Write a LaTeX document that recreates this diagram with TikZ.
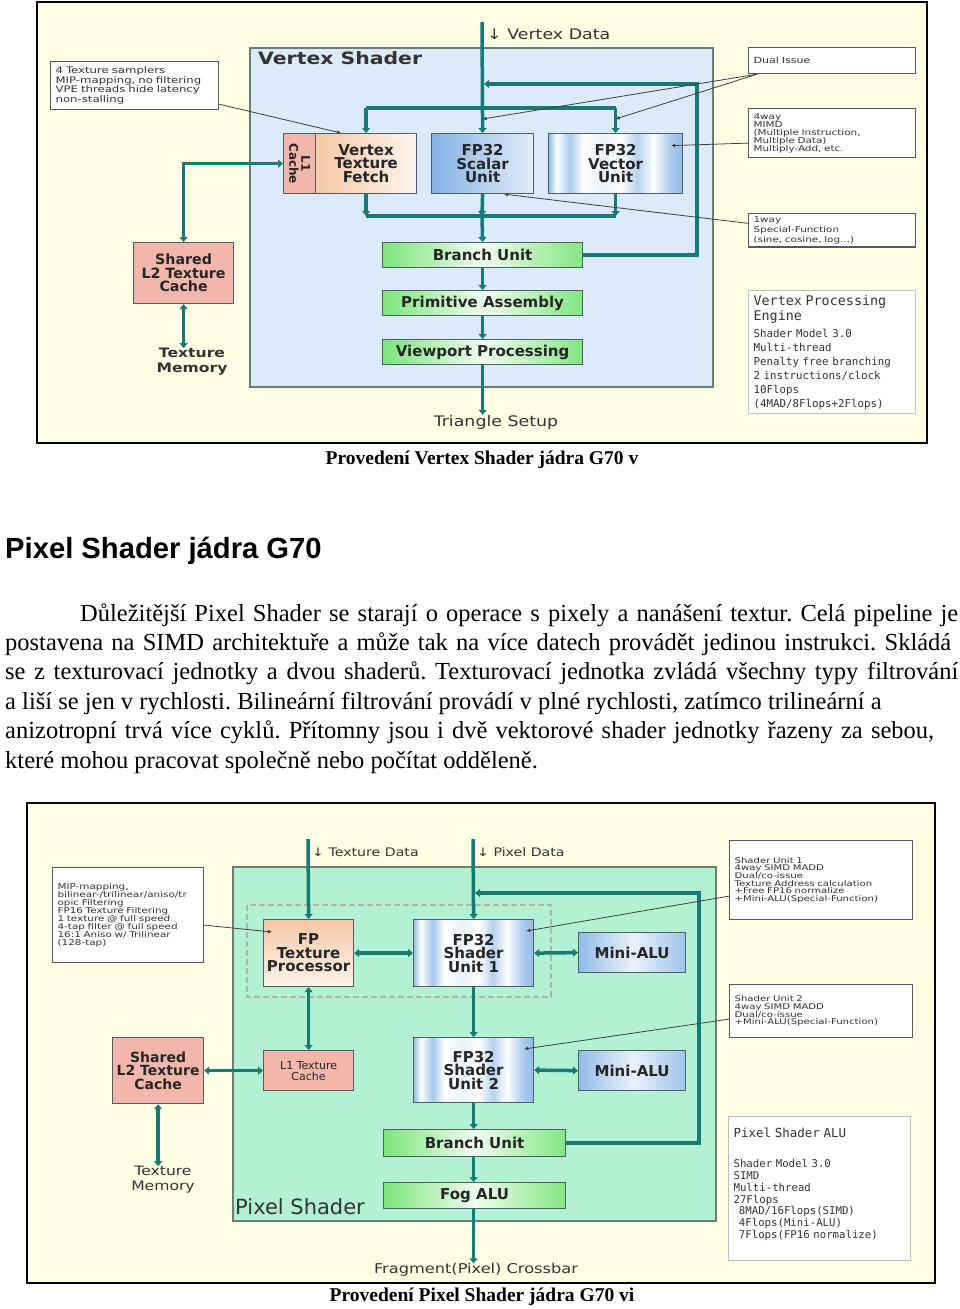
\documentclass[tikz,border=0pt]{standalone}
\usepackage{fontspec}
\setmainfont{Liberation Serif}
\newfontfamily\headfont{Liberation Sans}
\newfontfamily\diafont{DejaVu Sans}
\newfontfamily\widefont[FakeStretch=1.2]{DejaVu Sans}
\newfontfamily\notefont[FakeStretch=1.3]{DejaVu Sans}
\newfontfamily\monofont{DejaVu Sans Mono}
\usetikzlibrary{arrows.meta,positioning}

\definecolor{paper}{RGB}{255,255,230}
\definecolor{vsfill}{RGB}{220,235,250}
\definecolor{psfill}{RGB}{178,242,210}
\definecolor{wirec}{RGB}{22,122,118}
\definecolor{edgec}{RGB}{80,95,100}
\definecolor{frameedge}{RGB}{110,125,115}
\definecolor{salmon}{RGB}{243,182,170}
\definecolor{peach}{RGB}{246,200,165}
\definecolor{unitblue}{RGB}{110,165,225}
\definecolor{lime}{RGB}{100,225,100}

\pgfdeclarehorizontalshading{stripes}{100bp}{color(0bp)=(unitblue!75); color(25bp)=(unitblue!75);
  color(28bp)=(white); color(33bp)=(unitblue!60); color(38bp)=(white); color(45bp)=(white!85!unitblue);
  color(52bp)=(white); color(58bp)=(unitblue!50); color(64bp)=(white); color(70bp)=(unitblue!55);
  color(75bp)=(unitblue!75); color(100bp)=(unitblue!75)}

\tikzset{
  sheet/.style={draw=black, line width=1.4pt, fill=paper},
  shaderbox/.style={draw=frameedge, line width=2pt},
  unitbox/.style={draw=edgec, line width=1.2pt, anchor=north west, inner sep=1pt, align=center,
    text=black!85, font=\diafont\bfseries\fontsize{15}{13.5}\selectfont},
  redbox/.style={unitbox, fill=salmon},
  peachbox/.style={unitbox, left color=peach, right color=peach!20},
  bluebox/.style={unitbox, shading=stripes},
  scalarbox/.style={unitbox, left color=unitblue!85, right color=unitblue!20},
  alubox/.style={unitbox, left color=unitblue!75, right color=unitblue!65, middle color=unitblue!15},
  greenbox/.style={unitbox, left color=lime!85, right color=lime!80, middle color=lime!10},
  notebox/.style={draw=gray!70!black, line width=1.2pt, fill=white, anchor=north west, align=left,
    inner xsep=5pt, inner ysep=3pt, text=black!80, font=\notefont\fontsize{8}{8}\selectfont},
  monobox/.style={notebox, draw=gray!50, font=\monofont\fontsize{10.8}{14}\selectfont},
  plain/.style={text=black!80, inner sep=0pt},
  wire/.style={draw=wirec, line width=3.5pt},
  flow/.style={wire, -{Triangle[length=5pt,width=8pt]}},
  dflow/.style={wire, {Triangle[length=5pt,width=8pt]}-{Triangle[length=5pt,width=8pt]}},
  pointer/.style={draw=black!75, line width=0.8pt, -{Latex[length=4pt,width=4pt]}},
  bodytext/.style={anchor=base west, inner sep=0pt, font=\fontsize{24.5}{29}\selectfont\frenchspacing}
}

\begin{document}
\begin{tikzpicture}[x=1pt,y=-1pt]
  \useasboundingbox (0,0) rectangle (960,1309);

  % ---------- vertex shader figure ----------
  \draw[sheet] (37,2) rectangle (927,443);
  \draw[shaderbox, fill=vsfill] (250,48) rectangle (713,387);
  \node[plain, anchor=west, font=\widefont\bfseries\fontsize{17}{17}\selectfont] (vsname) at (258,58) {Vertex Shader};

  \node[redbox, minimum width=32pt, minimum height=60pt, font=\diafont\bfseries\fontsize{12}{11}\selectfont] (l1c) at (283,133) {\rotatebox[origin=c]{-90}{\shortstack{L1\\Cache}}};
  \node[peachbox, minimum width=101pt, minimum height=60pt] (vtf) at (315,133) {Vertex\\Texture\\Fetch};
  \node[scalarbox, minimum width=102pt, minimum height=60pt] (fpsu) at (431,133) {FP32\\Scalar\\Unit};
  \node[bluebox, minimum width=134pt, minimum height=60pt] (fpvu) at (548,133) {FP32\\Vector\\Unit};
  \node[greenbox, minimum width=200pt, minimum height=25pt] (bru) at (382,242) {Branch Unit};
  \node[greenbox, minimum width=200pt, minimum height=25pt] (pra) at (382,290) {Primitive Assembly};
  \node[greenbox, minimum width=200pt, minimum height=25pt] (vpp) at (382,339) {Viewport Processing};
  \node[plain, font=\widefont\fontsize{14.5}{14}\selectfont] (tsu) at (496,422) {Triangle Setup};
  \node[redbox, minimum width=100pt, minimum height=61pt, font=\diafont\bfseries\fontsize{14.2}{13.5}\selectfont] (l2c) at (133,242) {Shared\\L2 Texture\\Cache};
  \node[plain, align=center, font=\widefont\bfseries\fontsize{13}{15}\selectfont] (texmem) at (192,362) {Texture\\Memory};

  \coordinate (vdata) at (482,22);
  \coordinate (tbus) at (482,108);
  \coordinate (bbus) at (482,216);
  \coordinate (vloop) at (697,84);
  \coordinate (vjoin) at (482,84);
  \node[plain, anchor=west, font=\widefont\fontsize{14.5}{14}\selectfont] (vdtxt) at (487,34) {↓ Vertex Data};

  \draw[flow] (vdata) -- (fpsu.north);
  \draw[wire] (vtf.north |- tbus) -- (fpvu.north |- tbus);
  \draw[flow] (vtf.north |- tbus) -- (vtf.north);
  \draw[flow] (fpvu.north |- tbus) -- (fpvu.north);
  \draw[wire] (vtf.south |- bbus) -- (fpvu.south |- bbus);
  \draw[flow] (vtf.south) -- (vtf.south |- bbus);
  \draw[flow] (fpvu.south) -- (fpvu.south |- bbus);
  \draw[flow] (fpsu.south) -- (bbus);
  \draw[flow] (bbus) -- (bru.north);
  \draw[flow] (bru) -- (pra);
  \draw[flow] (pra) -- (vpp);
  \draw[flow] (vpp.south) -- (vpp.south |- tsu.north);
  \draw[flow] (bru.east) -| (vloop) -- ([xshift=2pt]vjoin);
  \draw[dflow] (l1c.west) -| (l2c.north);
  \draw[dflow] (l2c.south) -- (l2c.south |- texmem.north);

  \node[notebox, font=\notefont\fontsize{9}{9.5}\selectfont, text width=158pt, minimum height=48pt] (ctex) at (50,61)
    {4 Texture samplers\\MIP-mapping, no filtering\\VPE threads hide latency\\non-stalling};
  \node[notebox, font=\notefont\fontsize{8.5}{8.5}\selectfont, text width=157pt, minimum height=26pt] (dual) at (748,47) {Dual Issue};
  \node[notebox, text width=157pt, minimum height=49pt] (mimd) at (748,108)
    {4way\\MIMD\\(Multiple Instruction,\\Multiple Data)\\Multiply-Add, etc.};
  \node[notebox, font=\notefont\fontsize{8}{10}\selectfont, text width=157pt, minimum height=33pt] (sfu) at (748,213)
    {1way\\Special-Function\\(sine, cosine, log...)};
  \node[monobox, text width=157pt, minimum height=123pt] (vpe) at (748,290)
    {{\fontsize{13.4}{15}\selectfont Vertex Processing\\Engine\par}\vspace{3pt}
     Shader Model 3.0\\Multi-thread\\Penalty free branching\\2 instructions/clock\\10Flops\\(4MAD/8Flops+2Flops)};

  \draw[pointer] ([yshift=6pt]ctex.south east) -- ([xshift=-25pt]vtf.north);
  \draw[pointer] ([xshift=9pt]dual.south west) -- ([yshift=14pt]fpsu.north);
  \draw[pointer] ([xshift=9pt]dual.south west) -- ([yshift=14pt]fpvu.north);
  \draw[pointer] ([yshift=-10pt]mimd.west) -- ([xshift=-12pt,yshift=18pt]fpvu.east);
  \draw[pointer] ([yshift=7pt]sfu.west) -- ([xshift=-30pt]fpsu.south east);

  \node[plain, text=black, font=\bfseries\fontsize{19.5}{20}\selectfont] (capa) at (482,460) {Provedení Vertex Shader jádra G70 v};

  % ---------- text ----------
  \node[plain, text=black, anchor=base west, font=\headfont\bfseries\fontsize{29.2}{30}\selectfont] (head) at (5,558) {Pixel Shader jádra G70};
  \node[bodytext] (txta) at (80,621) {\makebox[878pt][s]{Důležitější Pixel Shader se starají o operace s pixely a nanášení textur. Celá pipeline je}};
  \node[bodytext] (txtb) at (5,650.4) {\makebox[946pt][s]{postavena na SIMD architektuře a může tak na více datech provádět jedinou instrukci. Skládá}};
  \node[bodytext] (txtc) at (5,679.8) {\makebox[953pt][s]{se z texturovací jednotky a dvou shaderů. Texturovací jednotka zvládá všechny typy filtrování}};
  \node[bodytext] (txtd) at (5,709.2) {a liší se jen v rychlosti. Bilineární filtrování provádí v plné rychlosti, zatímco trilineární a};
  \node[bodytext] (txte) at (5,738.6) {\makebox[929pt][s]{anizotropní trvá více cyklů. Přítomny jsou i dvě vektorové shader jednotky řazeny za sebou,}};
  \node[bodytext] (txtf) at (5,768) {které mohou pracovat společně nebo počítat odděleně.};

  % ---------- pixel shader figure ----------
  \draw[sheet] (27,803) rectangle (935,1283);
  \draw[shaderbox, fill=psfill] (233,867) rectangle (716,1221);
  \draw[gray!60, line width=1.2pt, dash pattern=on 6pt off 3pt] (247,905) rectangle (551,997);
  \node[plain, anchor=base west, font=\diafont\fontsize{21}{21}\selectfont] (psname) at (235,1214) {Pixel Shader};

  \node[peachbox, top color=peach, bottom color=peach!20, minimum width=90pt, minimum height=67pt] (fptp) at (263,919) {FP\\Texture\\Processor};
  \node[bluebox, minimum width=120pt, minimum height=67pt] (su1) at (413,919) {FP32\\Shader\\Unit 1};
  \node[alubox, minimum width=107pt, minimum height=40pt] (alu1) at (578,932) {Mini-ALU};
  \node[redbox, minimum width=90pt, minimum height=40pt, font=\diafont\fontsize{11}{11}\selectfont] (l1tc) at (263,1050) {L1 Texture\\Cache};
  \node[bluebox, minimum width=120pt, minimum height=65pt] (su2) at (413,1037) {FP32\\Shader\\Unit 2};
  \node[alubox, minimum width=107pt, minimum height=40pt] (alu2) at (578,1050) {Mini-ALU};
  \node[greenbox, minimum width=182pt, minimum height=27pt] (bru2) at (383,1129) {Branch Unit};
  \node[greenbox, minimum width=182pt, minimum height=26pt] (fog) at (383,1182) {Fog ALU};
  \node[plain, font=\widefont\fontsize{13.5}{14}\selectfont] (xbar) at (476,1270) {Fragment(Pixel) Crossbar};
  \node[redbox, minimum width=91pt, minimum height=66pt, font=\diafont\bfseries\fontsize{14}{13.5}\selectfont] (l2c2) at (112,1037) {Shared\\L2 Texture\\Cache};
  \node[plain, align=center, font=\widefont\fontsize{13}{15}\selectfont] (texmem2) at (163,1180) {Texture\\Memory};

  \coordinate (tdata) at (308,839);
  \coordinate (pdata) at (473,839);
  \coordinate (ploop) at (699,893);
  \coordinate (pjoin) at (473,893);
  \node[plain, anchor=west, font=\widefont\fontsize{11.8}{12}\selectfont] (tdtxt) at (312,852) {↓ Texture Data};
  \node[plain, anchor=west, font=\widefont\fontsize{11.8}{12}\selectfont] (pdtxt) at (477,852) {↓ Pixel Data};

  \draw[flow] (tdata) -- (fptp.north);
  \draw[flow] (pdata) -- (su1.north);
  \draw[dflow] (fptp.east) -- (su1.west);
  \draw[dflow] (su1.east) -- (alu1.west);
  \draw[dflow] (su2.east) -- (alu2.west);
  \draw[dflow] (fptp.south) -- (l1tc.north);
  \draw[dflow] (l2c2.east) -- (l1tc.west);
  \draw[dflow] (l2c2.south) -- (l2c2.south |- texmem2.north);
  \draw[flow] (su1.south) -- (su2.north);
  \draw[flow] (su2.south) -- (su2.south |- bru2.north);
  \draw[flow] (su2.south |- bru2.south) -- (su2.south |- fog.north);
  \draw[flow] (su2.south |- fog.south) -- (su2.south |- xbar.north);
  \draw[flow] (bru2.east) -| (ploop) -- ([xshift=2pt]pjoin);

  \node[notebox, text width=141pt, minimum height=95pt] (cmip) at (52,867)
    {MIP-mapping,\\bilinear-/trilinear/aniso/tr\\opic Filtering\\FP16 Texture Filtering\\1 texture @ full speed\\4-tap filter @ full speed\\16:1 Aniso w/ Trilinear\\(128-tap)};
  \node[notebox, font=\notefont\fontsize{7.8}{7.6}\selectfont, text width=173pt, minimum height=79pt] (csu1) at (729,840)
    {Shader Unit 1\\4way SIMD MADD\\Dual/co-issue\\Texture Address calculation\\+Free FP16 normalize\\+Mini-ALU(Special-Function)};
  \node[notebox, font=\notefont\fontsize{7.8}{7.6}\selectfont, text width=173pt, minimum height=53pt] (csu2) at (729,984)
    {Shader Unit 2\\4way SIMD MADD\\Dual/co-issue\\+Mini-ALU(Special-Function)};
  \node[monobox, font=\monofont\fontsize{10.7}{11.8}\selectfont, text width=172pt, minimum height=144pt] (cpsa) at (728,1116)
    {{\fontsize{12.5}{14}\selectfont Pixel Shader ALU\par}\vspace{18pt}
     Shader Model 3.0\\SIMD\\Multi-thread\\27Flops\\\hspace*{0.5em}8MAD/16Flops(SIMD)\\\hspace*{0.5em}4Flops(Mini-ALU)\\\hspace*{0.5em}7Flops(FP16 normalize)\vspace{8pt}};

  \draw[pointer] ([yshift=-10pt]cmip.east) -- ([xshift=9pt,yshift=-13pt]fptp.north west);
  \draw[pointer] ([yshift=-16pt]csu1.west) -- ([xshift=-8pt,yshift=-12pt]su1.north east);
  \draw[pointer] ([yshift=-8pt]csu2.west) -- ([xshift=-10pt,yshift=-12pt]su2.north east);

  \node[plain, text=black, font=\bfseries\fontsize{19.5}{20}\selectfont] (capb) at (482,1297) {Provedení Pixel Shader jádra G70 vi};
\end{tikzpicture}
\end{document}
